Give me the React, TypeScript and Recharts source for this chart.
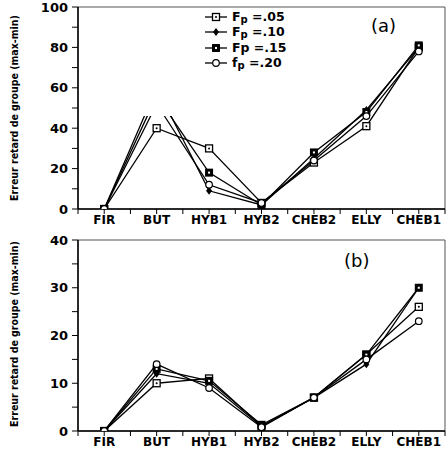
import React from 'react'
import { LineChart, Line, XAxis, YAxis, ReferenceArea } from 'recharts'

const categories = ['FIR', 'BUT', 'HYB1', 'HYB2', 'CHEB2', 'ELLY', 'CHEB1']

// panel (a)
const a05 = [0, 40, 30, 3, 23, 41, 80]
const a10 = [0, 60, 9, 2, 25, 49, 80]
const a15 = [0, 56, 18, 2, 28, 48, 81]
const a20 = [0, 52, 12, 3, 24, 46, 78]

// panel (b)
const b05 = [0, 10, 11, 1, 7, 16, 26]
const b10 = [0, 12, 10, 1, 7, 14, 30]
const b15 = [0, 13, 10.5, 1.3, 7, 16, 30]
const b20 = [0, 14, 9, 0.8, 7, 15, 23]

const xTicks = [-0.5, 0, 0.5, 1, 1.5, 2, 2.5, 3, 3.5, 4, 4.5, 5, 5.5, 6, 6.5]
const yTicksA = [0, 10, 20, 30, 40, 50, 60, 70, 80, 90, 100]
const yTicksB = [0, 5, 10, 15, 20, 25, 30, 35, 40]

// erased part of the original scan, panel (a)
const maskX = [0.5, 1.5]
const maskY = [46, 99]

type MarkerType = 'sqdot' | 'diamond' | 'sqfill' | 'circle'

const series: { key: string; marker: MarkerType; main: string; sub: string; rest: string }[] = [
  { key: 's05', marker: 'sqdot', main: 'F', sub: 'p', rest: ' =.05' },
  { key: 's10', marker: 'diamond', main: 'F', sub: 'p', rest: ' =.10' },
  { key: 's15', marker: 'sqfill', main: 'Fp', sub: '', rest: ' =.15' },
  { key: 's20', marker: 'circle', main: 'f', sub: 'p', rest: ' =.20' }
]

const FONT = '"DejaVu Sans", sans-serif'

function Marker({ type, cx, cy }: { type: MarkerType; cx: number; cy: number }) {
  if (type === 'sqdot') {
    return (
      <g>
        <rect x={cx - 3.5} y={cy - 3.5} width={7} height={7} fill='#fff' stroke='#000' strokeWidth={1.3} />
        <circle cx={cx} cy={cy} r={1} fill='#000' />
      </g>
    )
  }
  if (type === 'diamond') {
    return <path d={`M${cx},${cy - 4} L${cx + 3},${cy} L${cx},${cy + 4} L${cx - 3},${cy} Z`} fill='#000' />
  }
  if (type === 'sqfill') {
    return (
      <g>
        <rect x={cx - 4} y={cy - 4} width={8} height={8} fill='#000' />
        <rect x={cx - 1} y={cy - 1} width={2} height={2} fill='#fff' />
      </g>
    )
  }
  return <circle cx={cx} cy={cy} r={3.3} fill='#fff' stroke='#000' strokeWidth={1.2} />
}

interface PanelProps {
  values: number[][]
  yMax: number
  yTicks: number[]
  labelStep: number
  height: number
  marginTop: number
}

function buildData(values: number[][]) {
  return categories.map((c, i) => {
    const row: Record<string, number | string> = { x: i, cat: c }
    series.forEach((s, j) => {
      row[s.key] = values[j][i]
    })
    return row
  })
}

function Panel({ values, yMax, yTicks, labelStep, height, marginTop }: PanelProps) {
  const data = buildData(values)
  const tickStyle = { fontFamily: FONT, fontSize: 13, fontWeight: 'bold' as const, fill: '#000' }

  return (
    <LineChart width={446} height={height} data={data} margin={{ top: marginTop, right: 1, bottom: 0, left: 0 }}>
      <XAxis
        dataKey='x'
        type='number'
        domain={[-0.5, 6.5]}
        ticks={xTicks}
        interval={0}
        tickFormatter={(v: number) => (Number.isInteger(v) ? categories[v] : '')}
        tick={{ ...tickStyle, fontSize: 12 }}
        tickLine={{ stroke: '#000' }}
        axisLine={{ stroke: '#000', strokeWidth: 1.5 }}
        tickSize={5}
        tickMargin={1}
        height={21}
        allowDataOverflow
      />
      <YAxis
        type='number'
        domain={[0, yMax]}
        ticks={yTicks}
        interval={0}
        tickFormatter={(v: number) => (v % labelStep === 0 ? String(v) : '')}
        tick={tickStyle}
        tickLine={{ stroke: '#000' }}
        axisLine={{ stroke: '#000', strokeWidth: 1.5 }}
        tickSize={6}
        tickMargin={4}
        width={78}
        allowDataOverflow
      />
      <ReferenceArea x1={-0.5} x2={6.5} y1={0} y2={yMax} fill='none' stroke='#555' strokeWidth={1} />
      {series.map((s) => (
        <Line
          key={s.key}
          dataKey={s.key}
          type='linear'
          stroke='#000'
          strokeWidth={1.3}
          isAnimationActive={false}
          activeDot={false}
          dot={(p: any) => <Marker key={`${s.key}-${p.index}`} type={s.marker} cx={p.cx} cy={p.cy} />}
        />
      ))}
    </LineChart>
  )
}

// transparent chart laid over panel (a), same scales, holding only the white patch
function MaskLayer({ yMax, height, marginTop }: { yMax: number; height: number; marginTop: number }) {
  return (
    <LineChart width={446} height={height} data={buildData([a05, a10, a15, a20])} margin={{ top: marginTop, right: 1, bottom: 21, left: 78 }}>
      <XAxis dataKey='x' type='number' domain={[-0.5, 6.5]} hide allowDataOverflow />
      <YAxis type='number' domain={[0, yMax]} hide allowDataOverflow />
      <ReferenceArea x1={maskX[0]} x2={maskX[1]} y1={maskY[0]} y2={maskY[1]} fill='#fff' fillOpacity={1} stroke='none' />
    </LineChart>
  )
}

function LegendBox() {
  return (
    <div style={{ position: 'absolute', left: 203, top: 9, fontFamily: FONT, fontSize: 12.5, fontWeight: 'bold', lineHeight: 1 }}>
      {series.map((s) => (
        <div key={s.key} style={{ display: 'flex', alignItems: 'center', height: 15.5 }}>
          <svg width={26} height={12}>
            <line x1={2} x2={24} y1={6} y2={6} stroke='#000' strokeWidth={1.3} />
            <Marker type={s.marker} cx={13} cy={6} />
          </svg>
          <span style={{ marginLeft: 3, whiteSpace: 'pre', lineHeight: 1 }}>
            {s.main}
            {s.sub && <span style={{ fontSize: 10, position: 'relative', top: 2, lineHeight: 1 }}>{s.sub}</span>}
            {s.rest}
          </span>
        </div>
      ))}
    </div>
  )
}

const yLabel = 'Erreur retard de groupe (max-min)'

function AxisTitle({ cy }: { cy: number }) {
  return (
    <div
      style={{
        position: 'absolute',
        left: 14,
        top: cy,
        transform: 'translate(-50%, -50%) rotate(-90deg)',
        whiteSpace: 'nowrap',
        fontFamily: '"DejaVu Sans Condensed", "DejaVu Sans", sans-serif',
        fontWeight: 'bold',
        fontSize: 10.5
      }}
    >
      {yLabel}
    </div>
  )
}

export default function App() {
  return (
    <div style={{ position: 'absolute', left: 0, top: 0, width: 446, height: 452, background: '#fff' }}>
      <div style={{ position: 'absolute', left: 0, top: 0 }}>
        <Panel values={[a05, a10, a15, a20]} yMax={100} yTicks={yTicksA} labelStep={20} height={230} marginTop={7} />
      </div>
      <div style={{ position: 'absolute', left: 0, top: 0 }}>
        <MaskLayer yMax={100} height={230} marginTop={7} />
      </div>
      <div style={{ position: 'absolute', left: 0, top: 230 }}>
        <Panel values={[b05, b10, b15, b20]} yMax={40} yTicks={yTicksB} labelStep={10} height={222} marginTop={10} />
      </div>
      <LegendBox />
      <div style={{ position: 'absolute', left: 371, top: 15, fontFamily: FONT, fontSize: 18 }}>(a)</div>
      <div style={{ position: 'absolute', left: 344, top: 250, fontFamily: FONT, fontSize: 18 }}>(b)</div>
      <AxisTitle cy={108} />
      <AxisTitle cy={334} />
    </div>
  )
}
